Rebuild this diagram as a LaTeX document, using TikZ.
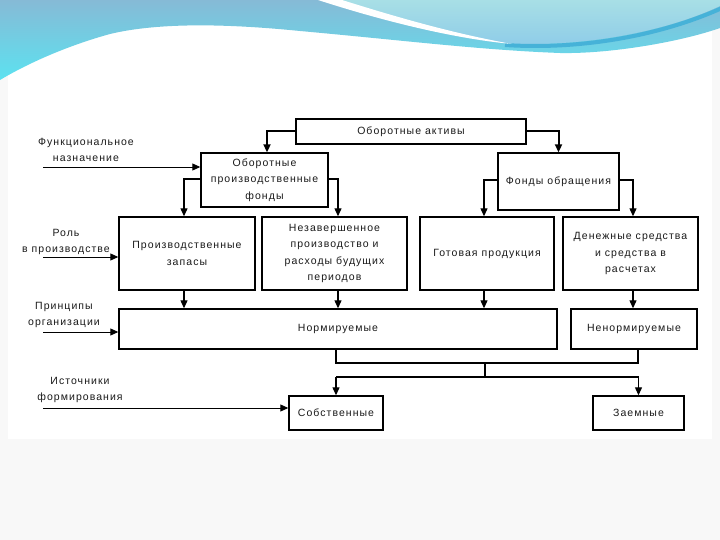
\documentclass[tikz,border=0pt]{standalone}
\usepackage{fontspec}
\usetikzlibrary{arrows.meta,calc}
\newfontfamily\df{Liberation Sans}[LetterSpace=10]
\definecolor{bgG}{HTML}{F8F8F8}
\definecolor{waveTop}{HTML}{86BAD6}
\definecolor{waveBot}{HTML}{5CE2F0}
\definecolor{blobTop}{HTML}{A8DFE6}
\definecolor{blobBot}{HTML}{8ECCE8}
\definecolor{stripe}{HTML}{46B2D8}
\definecolor{txt}{HTML}{1A1A1A}
\tikzset{
  box/.style={draw=black, line width=1.4pt, fill=white, inner sep=0pt, align=center,
    font=\df\fontsize{10.5}{16.5}\selectfont, text=txt},
  lbl/.style={inner sep=0pt, align=center, font=\df\fontsize{10.5}{16}\selectfont, text=txt},
  conn/.style={line width=1.2pt, -{Triangle[length=8pt,width=7pt]}},
  thickconn/.style={line width=2pt, -{Triangle[length=8pt,width=7pt]}},
  plain/.style={line width=1.6pt},
  inarrow/.style={line width=0.9pt, -{Triangle[length=8pt,width=7pt]}}
}
\begin{document}
\begin{tikzpicture}[x=1pt,y=-1pt]
\useasboundingbox (0,0) rectangle (720,540);
% background
\fill[bgG] (0,0) rectangle (720,540);
\fill[white] (8,0) rectangle (712,439);
% wave
\shade[top color=waveTop, bottom color=waveBot]
  (0,0) -- (720,0) -- (720,28)
  .. controls (680,42) and (610,54) .. (560,53)
  .. controls (480,50) and (400,40) .. (300,31)
  .. controls (230,24) and (160,22) .. (110,34)
  .. controls (70,45) and (30,62) .. (0,80) -- cycle;
\shade[top color=blobTop, bottom color=blobBot]
  (322,0) .. controls (390,22) and (460,40) .. (512,44)
  .. controls (580,46) and (660,34) .. (720,6) -- (720,0) -- cycle;
\draw[stripe, line width=4pt]
  (505,45) .. controls (580,50) and (660,36) .. (722,8);
\fill[white]
  (318,0) .. controls (380,20) and (450,38) .. (512,44)
  .. controls (450,33) and (390,15) .. (342,0) -- cycle;
% boxes
\node[box, minimum width=230pt, minimum height=25pt] (A) at (411,131.5) {Оборотные активы};
\node[box, minimum width=127pt, minimum height=54pt] (B) at (264.5,180) {Оборотные\\производственные\\фонды};
\node[box, minimum width=121pt, minimum height=57pt] (C) at (558.5,181.5) {Фонды обращения};
\node[box, minimum width=136pt, minimum height=73pt] (D) at (187,253.5) {Производственные\\запасы};
\node[box, minimum width=145pt, minimum height=73pt] (E) at (334.5,253.5) {Незавершенное\\производство и\\расходы будущих\\периодов};
\node[box, minimum width=134pt, minimum height=73pt] (F) at (487,253.5) {Готовая продукция};
\node[box, minimum width=135pt, minimum height=73pt] (G) at (630.5,253.5) {Денежные средства\\и средства в\\расчетах};
\node[box, minimum width=438pt, minimum height=40pt] (H) at (338,329) {Нормируемые};
\node[box, minimum width=126pt, minimum height=40pt] (I) at (634,329) {Ненормируемые};
\node[box, minimum width=94pt, minimum height=34pt] (J) at (336,413) {Собственные};
\node[box, minimum width=91pt, minimum height=34pt] (K) at (638.5,413) {Заемные};
% left labels
\node[lbl] (L1) at (86,149.5) {Функциональное\\назначение};
\node[lbl] (L2) at (66,241.5) {Роль\\в производстве};
\node[lbl] (L3) at (64,314.5) {Принципы\\организации};
\node[lbl] (L4) at (80,389.5) {Источники\\формирования};
% input lines
\coordinate (s1) at (43,167);
\coordinate (s2) at (43,257);
\coordinate (s3) at (43,332);
\coordinate (s4) at (43,408);
\draw[inarrow] (s1) -- (s1 -| B.west);
\draw[inarrow] (s2) -- (s2 -| D.west);
\draw[inarrow] (s3) -- (s3 -| H.west);
\draw[inarrow] (s4) -- (s4 -| J.west);
% top connectors
\draw[thickconn] (A.west) -| ([xshift=2.5pt]B.north);
\draw[thickconn] (A.east) -| (C.north);
\draw[conn] ([yshift=1pt]B.west) -| ([xshift=-3pt]D.north);
\draw[conn] ([yshift=1pt]B.east) -| ([xshift=3.5pt]E.north);
\draw[conn] ([yshift=1.5pt]C.west) -| ([xshift=-3pt]F.north);
\draw[conn] ([yshift=1.5pt]C.east) -| ([xshift=2.5pt]G.north);
% to second level
\draw[conn] ([xshift=-3pt]D.south) -- ([xshift=-3pt]D.south |- H.north);
\draw[conn] ([xshift=3.5pt]E.south) -- ([xshift=3.5pt]E.south |- H.north);
\draw[conn] ([xshift=-3pt]F.south) -- ([xshift=-3pt]F.south |- H.north);
\draw[conn] ([xshift=2.5pt]G.south) -- ([xshift=2.5pt]G.south |- I.north);
% bottom junction
\coordinate (j1) at (336,363);
\coordinate (j2) at (638,363);
\coordinate (j3) at (485,363);
\coordinate (j4) at (485,377);
\draw[plain] (H.south -| j1) -- (j1) -- (j2) -- (I.south -| j2);
\draw[plain] (j3) -- (j4);
\draw[line width=1.1pt] (J.north |- j4) -- (K.north |- j4);
\draw[conn] (J.north |- j4) -- (J.north);
\draw[conn] (K.north |- j4) -- (K.north);
\end{tikzpicture}
\end{document}
